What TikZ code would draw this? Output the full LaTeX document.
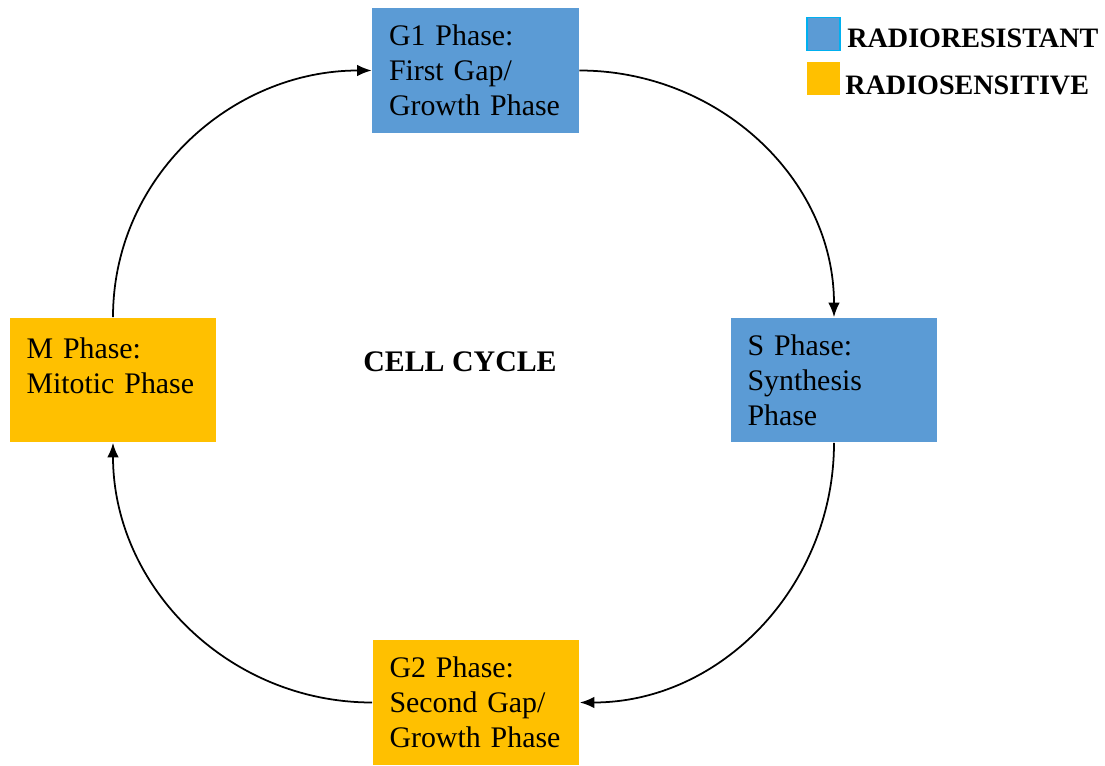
\documentclass[tikz,border=0pt]{standalone}
\usepackage{fontspec}
\setmainfont{Liberation Serif}
\usetikzlibrary{arrows.meta,positioning}
\definecolor{PhaseBlue}{RGB}{91,155,213}
\definecolor{PhaseAmber}{RGB}{255,192,0}
\definecolor{KeyCyan}{RGB}{0,176,240}
\tikzset{
  >=Latex,
  box/.style={rectangle,align=left,text=black,font=\fontsize{17}{19.9}\selectfont,minimum width=4.14cm,minimum height=2.5cm,text width=3.46cm,inner xsep=0.34cm,inner ysep=0pt},
  resist/.style={box,fill=PhaseBlue},
  sensitive/.style={box,fill=PhaseAmber},
  flow/.style={-{Latex[length=2.9mm,width=2.3mm]},line width=1pt,draw=black},
  keybox/.style={minimum size=0.66cm,inner sep=0pt},
  keytext/.style={font=\bfseries\fontsize{16}{18}\selectfont,anchor=base west,inner sep=0pt},
  label/.style={font=\bfseries\fontsize{17}{19}\selectfont,text=black}
}
\begin{document}
\begin{tikzpicture}[x=0.02cm,y=-0.02cm]
  \useasboundingbox (0,0) rectangle (1105,766);
  % phases
  \node[resist] (g1) at (475.5,70.5) {G1 Phase:\\First Gap/\\Growth Phase};
  \node[resist] (s) at (834,380) {S Phase:\\Synthesis\\Phase};
  \node[sensitive] (g2) at (476,702.5) {G2 Phase:\\Second Gap/\\Growth Phase};
  \node[sensitive] (m) at (113,380) {\strut\\[-12pt]M Phase:\\Mitotic Phase\\\strut};
  \node[label] (title) at (460,362) {CELL CYCLE};
  % cycle arrows
  \draw[flow] (m.north) to[out=90,in=180] (g1.west);
  \draw[flow] (g1.east) to[out=0,in=90] (s.north);
  \draw[flow] (s.south) to[out=-90,in=0] (g2.east);
  \draw[flow] (g2.west) to[out=180,in=-90] (m.south);
  % legend
  \node[keybox,fill=PhaseBlue,draw=KeyCyan,line width=1pt] (keyres) at (823.5,34) {};
  \node[keybox,fill=PhaseAmber] (keysen) at (823.5,78.5) {};
  \node[keytext] (keyrestext) at (847,48) {RADIORESISTANT};
  \node[keytext] (keysentext) at (845,95) {RADIOSENSITIVE};
\end{tikzpicture}
\end{document}
